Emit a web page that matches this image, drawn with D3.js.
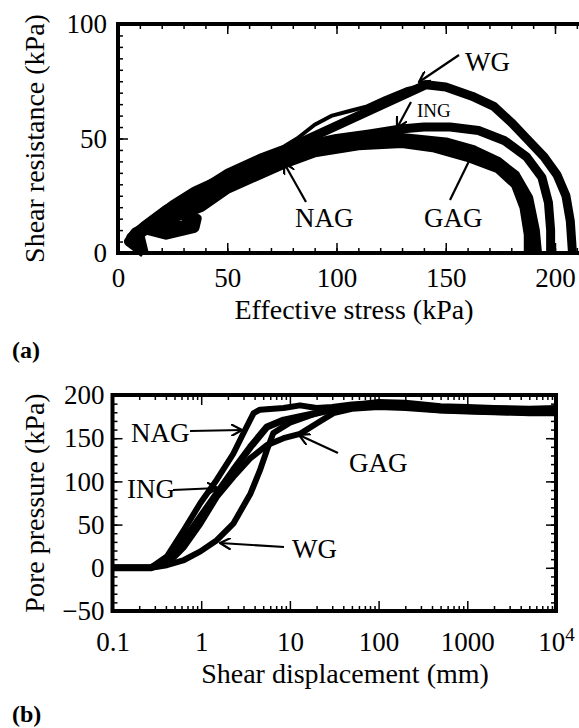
<!DOCTYPE html>
<html>
<head>
<meta charset="utf-8">
<script src="https://cdn.jsdelivr.net/npm/d3@7"></script>
<style>
  body { margin: 0; background: #fff; }
  text { font-family: "Liberation Serif", "Times New Roman", serif; fill: #000; }
</style>
</head>
<body>
<div id="chart-area"></div>
<script>
// ---- data: (a) stress paths, [effective stress kPa, shear resistance kPa]
const wgPath = [[10,0],[7,6],[14,13],[25,21],[35,27],[50,36],[65,42.5],[76,46.5],[82,50],[90,56],[98,60],[106,62],[114,64],[122,67.5],[132,71.5],[141,73.5],[150,72.5],[162,68.5],[172,64],[180,57],[187,50],[195,42],[201,34],[205,25],[207,14],[208,0]]
const ingPath = [[12,0],[6,7],[12,12],[22,19],[35,26],[50,33],[65,40],[80,46],[100,50],[115,52],[128,54],[140,55],[152,55],[165,53.5],[177,49],[187,42],[194,33],[197,22],[198,10],[198,0]]
const gagPath = [[12,0],[10,8],[20,15],[30,20],[50,31],[70,40],[90,46],[110,49],[130,50.5],[150,48.5],[163,45],[174,40],[182,34],[188,24],[191,10],[192,0]]
const nagPath = [[12,0],[5,5],[8,9],[18,14],[30,17],[36,15],[35,11],[22,8],[14,10],[22,12],[34,12],[30,17],[38,20],[50,28],[76,39],[90,44],[110,47],[130,48],[145,46],[160,42],[174,37],[182,30],[186,20],[188,8],[188,0]]

// ---- data: (b) pore pressure vs shear displacement, [mm, kPa]
const nagPore = [[0.1,0],[0.27,0],[0.41,13],[0.64,44],[0.98,75],[1.5,102],[2.3,132],[3.0,156],[3.9,179],[4.6,183],[8.5,185],[13,188],[20,185],[30,186],[50,189],[100,191],[200,190],[500,186],[1000,185],[2000,184],[5000,183],[10000,183]]
const ingPore = [[0.1,0],[0.27,0],[0.41,8],[0.64,32],[0.98,59],[1.5,86],[2.3,113],[3.6,140],[5.5,163],[8.5,171],[13,175],[20,179],[30,183],[50,186],[100,188],[200,187],[500,183],[1000,182],[2000,181],[5000,180],[10000,180]]
const gagPore = [[0.1,0],[0.27,0],[0.41,4],[0.64,24],[0.98,51],[1.5,82],[2.3,105],[3.6,127],[5.5,142],[8.5,150],[13,155],[20,167],[31,179],[50,184],[100,186],[200,185],[500,182],[1000,181],[2000,180],[5000,179],[10000,179]]
const wgPore = [[0.1,0],[0.27,0],[0.41,3],[0.64,9],[0.98,19],[1.5,32],[2.3,51],[3.6,86],[4.6,113],[5.5,136],[6.5,156],[10,168],[20,179],[30,184],[50,188],[100,192],[200,191],[500,187],[1000,186],[2000,185],[5000,184],[10000,185]]

// ---- ticks
const aXMajor = [0, 50, 100, 150, 200]
const aYMajor = [0, 50, 100]
const bXMajor = [0.1, 1, 10, 100, 1000, 10000]
const bXLabels = ["0.1", "1", "10", "100", "1000", "10^4"]
const bYMajor = [-50, 0, 50, 100, 150, 200]

const W = 579, H = 728
const svg = d3.select("#chart-area").append("svg")
	.attr("width", W)
	.attr("height", H)

// arrowhead (open V)
svg.append("defs").append("marker")
	.attr("id", "arr")
	.attr("viewBox", "0 0 12 12")
	.attr("refX", 11).attr("refY", 6)
	.attr("markerWidth", 12).attr("markerHeight", 12)
	.attr("markerUnits", "userSpaceOnUse")
	.attr("orient", "auto")
	.append("path")
	.attr("d", "M0,0 L11,6 L0,12")
	.attr("fill", "none").attr("stroke", "#000").attr("stroke-width", 2.2)

function frame(g, x0, y0, x1, y1) {
	g.append("rect")
		.attr("x", x0).attr("y", y0)
		.attr("width", x1 - x0).attr("height", y1 - y0)
		.attr("fill", "none").attr("stroke", "#000").attr("stroke-width", 4)
}

function tickAxis(g, axis, transform) {
	const a = g.append("g").attr("transform", transform).call(axis)
	a.select(".domain").remove()
	a.selectAll("line").attr("stroke", "#000").attr("stroke-width", 1.5)
	return a
}

function arrow(g, x1, y1, x2, y2, head) {
	g.append("line")
		.attr("x1", x1).attr("y1", y1).attr("x2", x2).attr("y2", y2)
		.attr("stroke", "#000").attr("stroke-width", 2.2)
		.attr("marker-end", head ? "url(#arr)" : null)
}

function label(g, x, y, t, size) {
	g.append("text").attr("x", x).attr("y", y)
		.attr("font-size", size + "px").text(t)
}

// ================= panel (a) =================
const ga = svg.append("g")
const xa = d3.scaleLinear().domain([0, 200]).range([118, 555])
const ya = d3.scaleLinear().domain([0, 100]).range([253, 24])
const aRight = xa(215)

// minor ticks
tickAxis(ga, d3.axisBottom(xa).tickValues(d3.range(0, 215, 10)).tickSize(-5).tickFormat(""), `translate(0,${ya(0)})`)
tickAxis(ga, d3.axisTop(xa).tickValues(d3.range(0, 215, 10)).tickSize(-5).tickFormat(""), `translate(0,${ya(100)})`)
tickAxis(ga, d3.axisLeft(ya).tickValues(d3.range(0, 101, 5)).tickSize(-5).tickFormat(""), `translate(${xa(0)},0)`)
// major ticks + labels
tickAxis(ga, d3.axisBottom(xa).tickValues(aXMajor).tickSize(-10).tickPadding(15), `translate(0,${ya(0)})`)
tickAxis(ga, d3.axisTop(xa).tickValues(aXMajor).tickSize(-10).tickFormat(""), `translate(0,${ya(100)})`)
tickAxis(ga, d3.axisLeft(ya).tickValues(aYMajor).tickSize(-10).tickPadding(11), `translate(${xa(0)},0)`)
ga.selectAll(".tick text").attr("font-size", "27px").attr("font-family", "Liberation Serif").attr("fill", "#000")

// curves
const lineA = d3.line().x(d => xa(d[0])).y(d => ya(d[1]))
const curvesA = [
	{ data: nagPath, w: 10 },
	{ data: gagPath, w: 9 },
	{ data: ingPath, w: 9 },
	{ data: wgPath, w: 4 },
	{ data: wgPath.filter(d => d[0] >= 141 || d[1] < 30 && d[0] < 40), w: 9 }
]
ga.selectAll("path.curve").data(curvesA).enter().append("path")
	.attr("class", "curve")
	.attr("d", d => lineA(d.data))
	.attr("fill", "none").attr("stroke", "#000")
	.attr("stroke-width", d => d.w)
	.attr("stroke-linejoin", "round")

frame(ga, xa(0), ya(100), aRight, ya(0))

// labels and arrows
label(ga, 465, 71, "WG", 27)
arrow(ga, 459, 55, 419, 82, true)
label(ga, 417, 117, "ING", 19)
arrow(ga, 411, 102, 397, 128, true)
label(ga, 295, 227, "NAG", 27)
arrow(ga, 306, 202, 284, 163, true)
label(ga, 424, 227, "GAG", 27)
arrow(ga, 450, 200, 472, 155, false)

ga.append("text").attr("x", 354).attr("y", 319)
	.attr("text-anchor", "middle").attr("font-size", "28px")
	.text("Effective stress (kPa)")
ga.append("text").attr("transform", `translate(44,${(ya(0) + ya(100)) / 2}) rotate(-90)`)
	.attr("text-anchor", "middle").attr("font-size", "28px")
	.text("Shear resistance (kPa)")
ga.append("text").attr("x", 12).attr("y", 358)
	.attr("font-size", "24px").attr("font-weight", "bold")
	.text("(a)")

// ================= panel (b) =================
const gb = svg.append("g")
const xb = d3.scaleLog().domain([0.1, 10000]).range([112.5, 556])
const yb = d3.scaleLinear().domain([-50, 200]).range([611, 395])

const logMinor = []
bXMajor.slice(0, -1).forEach(m => { for (let k = 2; k <= 9; k++) logMinor.push(m * k) })

tickAxis(gb, d3.axisBottom(xb).tickValues(logMinor).tickSize(-5).tickFormat(""), `translate(0,${yb(-50)})`)
tickAxis(gb, d3.axisTop(xb).tickValues(logMinor).tickSize(-5).tickFormat(""), `translate(0,${yb(200)})`)
tickAxis(gb, d3.axisLeft(yb).tickValues(d3.range(-50, 201, 10)).tickSize(-5).tickFormat(""), `translate(${xb(0.1)},0)`)
tickAxis(gb, d3.axisRight(yb).tickValues(d3.range(-50, 201, 10)).tickSize(-5).tickFormat(""), `translate(${xb(10000)},0)`)

const axB = tickAxis(gb, d3.axisBottom(xb).tickValues(bXMajor).tickSize(-10).tickPadding(21)
	.tickFormat((d, i) => bXLabels[i]), `translate(0,${yb(-50)})`)
tickAxis(gb, d3.axisTop(xb).tickValues(bXMajor).tickSize(-10).tickFormat(""), `translate(0,${yb(200)})`)
tickAxis(gb, d3.axisLeft(yb).tickValues(bYMajor).tickSize(-10).tickPadding(8), `translate(${xb(0.1)},0)`)
tickAxis(gb, d3.axisRight(yb).tickValues(bYMajor).tickSize(-10).tickFormat(""), `translate(${xb(10000)},0)`)
gb.selectAll(".tick text").attr("font-size", "27px").attr("font-family", "Liberation Serif").attr("fill", "#000")

// superscript for 10^4
axB.selectAll(".tick text").filter(d => d === 10000).each(function () {
	const t = d3.select(this).text("")
	t.append("tspan").text("10")
	t.append("tspan").attr("dy", "-0.55em").attr("font-size", "19px").text("4")
})

const lineB = d3.line().x(d => xb(d[0])).y(d => yb(d[1]))
const curvesB = [
	{ data: wgPore, w: 6 },
	{ data: gagPore, w: 6 },
	{ data: ingPore, w: 7 },
	{ data: nagPore, w: 6 }
]
gb.selectAll("path.curve").data(curvesB).enter().append("path")
	.attr("class", "curve")
	.attr("d", d => lineB(d.data))
	.attr("fill", "none").attr("stroke", "#000")
	.attr("stroke-width", d => d.w)
	.attr("stroke-linejoin", "round")

frame(gb, xb(0.1), yb(200), xb(10000), yb(-50))

label(gb, 131, 442, "NAG", 27)
arrow(gb, 190, 431, 242, 430, true)
label(gb, 127, 498, "ING", 27)
arrow(gb, 173, 490, 218, 488, true)
label(gb, 349, 472, "GAG", 27)
arrow(gb, 338, 453, 299, 435, true)
label(gb, 292, 558, "WG", 27)
arrow(gb, 284, 547, 220, 543, true)

gb.append("text").attr("x", 345).attr("y", 683)
	.attr("text-anchor", "middle").attr("font-size", "28px")
	.text("Shear displacement (mm)")
gb.append("text").attr("transform", `translate(44,${(yb(-50) + yb(200)) / 2}) rotate(-90)`)
	.attr("text-anchor", "middle").attr("font-size", "28px")
	.text("Pore pressure (kPa)")
gb.append("text").attr("x", 12).attr("y", 722)
	.attr("font-size", "24px").attr("font-weight", "bold")
	.text("(b)")
</script>
</body>
</html>
